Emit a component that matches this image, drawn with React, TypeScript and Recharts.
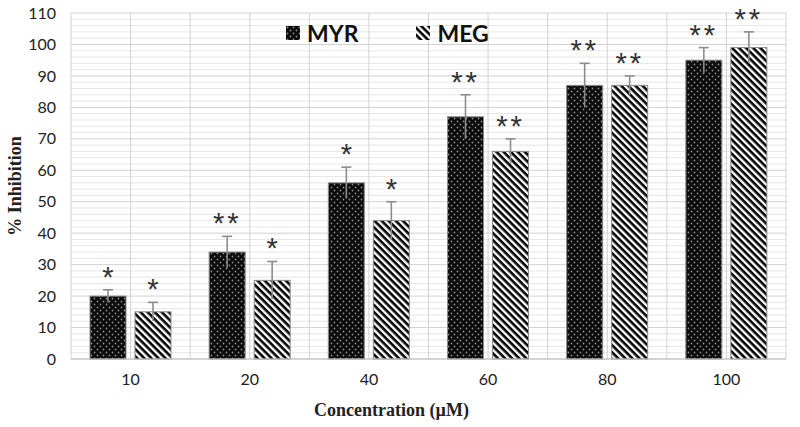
import React from 'react';
import { BarChart, Bar, XAxis, YAxis, CartesianGrid } from 'recharts';

const categories = ['10', '20', '40', '60', '80', '100'];
const myr = [20, 34, 56, 77, 87, 95];
const myrErr = [2, 5, 5, 7, 7, 4];
const meg = [15, 25, 44, 66, 87, 99];
const megErr = [3, 6, 6, 4, 3, 5];
const myrSig = ['*', '**', '*', '**', '**', '**'];
const megSig = ['*', '*', '*', '**', '**', '**'];
const yTicks = [0, 10, 20, 30, 40, 50, 60, 70, 80, 90, 100, 110];
const minorStep = 2;
const yMax = 110;

const data = categories.map((c, i) => ({
  conc: c,
  MYR: myr[i],
  MEG: meg[i],
  myrErr: myrErr[i],
  megErr: megErr[i],
  myrSig: myrSig[i],
  megSig: megSig[i],
}));

const PatternBar = (props: any) => {
  const { x, y, width, height, payload, valueKey, errKey, sigKey, fill } = props;
  const v = payload[valueKey];
  const err = payload[errKey];
  const ppu = v ? height / v : 0;
  const cx = x + width / 2;
  const top = y - err * ppu;
  const bottom = y + err * ppu;
  return (
    <g>
      <rect x={x} y={y} width={width} height={height} fill={fill} stroke="#8a8a8a" strokeWidth={1} />
      <line x1={cx} x2={cx} y1={top} y2={bottom} stroke="#8c8c8c" strokeWidth={1.6} />
      <line x1={cx - 5} x2={cx + 5} y1={top} y2={top} stroke="#8c8c8c" strokeWidth={1.6} />
      <text
        x={cx}
        y={top - 3}
        textAnchor="middle"
        fontFamily="'Liberation Sans', Arial, sans-serif"
        fontSize={29}
        fill="#333"
        letterSpacing={payload[sigKey].length > 1 ? 3 : 0}
      >
        {payload[sigKey]}
      </text>
    </g>
  );
};

const LegendBox = () => (
  <div
    style={{
      position: 'absolute',
      left: 286,
      top: 21,
      display: 'flex',
      alignItems: 'center',
      fontFamily: 'Lato, sans-serif',
      fontWeight: 700,
      fontSize: 23,
      color: '#111',
      lineHeight: '24px',
    }}
  >
    <svg width={14} height={14} style={{ marginRight: 7 }}>
      <rect width={14} height={14} fill="url(#pMyr)" />
    </svg>
    <span style={{ marginRight: 58 }}>MYR</span>
    <svg width={14} height={14} style={{ marginRight: 7 }}>
      <rect width={14} height={14} fill="url(#pMeg)" />
    </svg>
    <span>MEG</span>
  </div>
);

const vGen = ({ offset }: any) => {
  const left = offset.left;
  const w = offset.width;
  const n = categories.length * 2;
  const out: number[] = [];
  for (let i = 0; i <= n; i++) out.push(left + (w * i) / n);
  return out;
};

const minorGen = ({ offset }: any) => {
  const out: number[] = [];
  for (let v = 0; v <= yMax; v += minorStep) {
    if (v % 10 !== 0) out.push(offset.top + offset.height * (1 - v / yMax));
  }
  return out;
};

export default function App() {
  return (
    <div style={{ position: 'absolute', left: 0, top: 0, width: 800, height: 427, background: '#fff' }}>
      <svg width={0} height={0} style={{ position: 'absolute' }}>
        <defs>
          <pattern id="pMyr" width="6" height="6" patternUnits="userSpaceOnUse">
            <rect width="6" height="6" fill="#0a0a0a" />
            <circle cx="1.5" cy="1.5" r="0.9" fill="#8a8a8a" />
            <circle cx="4.5" cy="4.5" r="0.9" fill="#8a8a8a" />
          </pattern>
          <pattern id="pMeg" width="5" height="5" patternUnits="userSpaceOnUse" patternTransform="rotate(45)">
            <rect width="5" height="5" fill="#ffffff" />
            <rect width="5" height="2.6" fill="#000000" />
          </pattern>
        </defs>
      </svg>
      <BarChart
        width={800}
        height={427}
        data={data}
        margin={{ top: 13, right: 14, bottom: 0, left: 0 }}
        barCategoryGap={19}
        barGap={9}
      >
        <CartesianGrid
          vertical={false}
          horizontalCoordinatesGenerator={minorGen}
          stroke="#e6e6e6"
          strokeWidth={1}
        />
        <CartesianGrid
          horizontal={true}
          vertical={true}
          verticalCoordinatesGenerator={vGen}
          stroke="#d2d2d2"
          strokeWidth={1}
        />
        <XAxis
          dataKey="conc"
          height={68}
          tickSize={0}
          tickMargin={15}
          axisLine={{ stroke: '#bdbdbd' }}
          tick={{ fontFamily: 'Lato, sans-serif', fontSize: 16, fill: '#222' }}
          label={{
            value: 'Concentration (µM)',
            position: 'insideBottom',
            offset: 11,
            dx: -37,
            style: { fontFamily: "'Liberation Serif', 'Times New Roman', serif", fontWeight: 700, fontSize: 18, fill: '#222' },
          }}
        />
        <YAxis
          width={71}
          domain={[0, yMax]}
          ticks={yTicks}
          interval={0}
          tickSize={0}
          tickMargin={15}
          axisLine={false}
          tick={{ fontFamily: 'Lato, sans-serif', fontSize: 16, fill: '#222' }}
          label={{
            value: '% Inhibition',
            angle: -90,
            position: 'center',
            dx: -21,
            style: { fontFamily: "'Liberation Serif', 'Times New Roman', serif", fontWeight: 700, fontSize: 18, fill: '#222', textAnchor: 'middle' },
          }}
        />
        <Bar
          dataKey="MYR"
          barSize={36}
          isAnimationActive={false}
          fill="url(#pMyr)"
          shape={(p: any) => <PatternBar {...p} valueKey="MYR" errKey="myrErr" sigKey="myrSig" fill="url(#pMyr)" />}
        />
        <Bar
          dataKey="MEG"
          barSize={36}
          isAnimationActive={false}
          fill="url(#pMeg)"
          shape={(p: any) => <PatternBar {...p} valueKey="MEG" errKey="megErr" sigKey="megSig" fill="url(#pMeg)" />}
        />
      </BarChart>
      <LegendBox />
    </div>
  );
}
